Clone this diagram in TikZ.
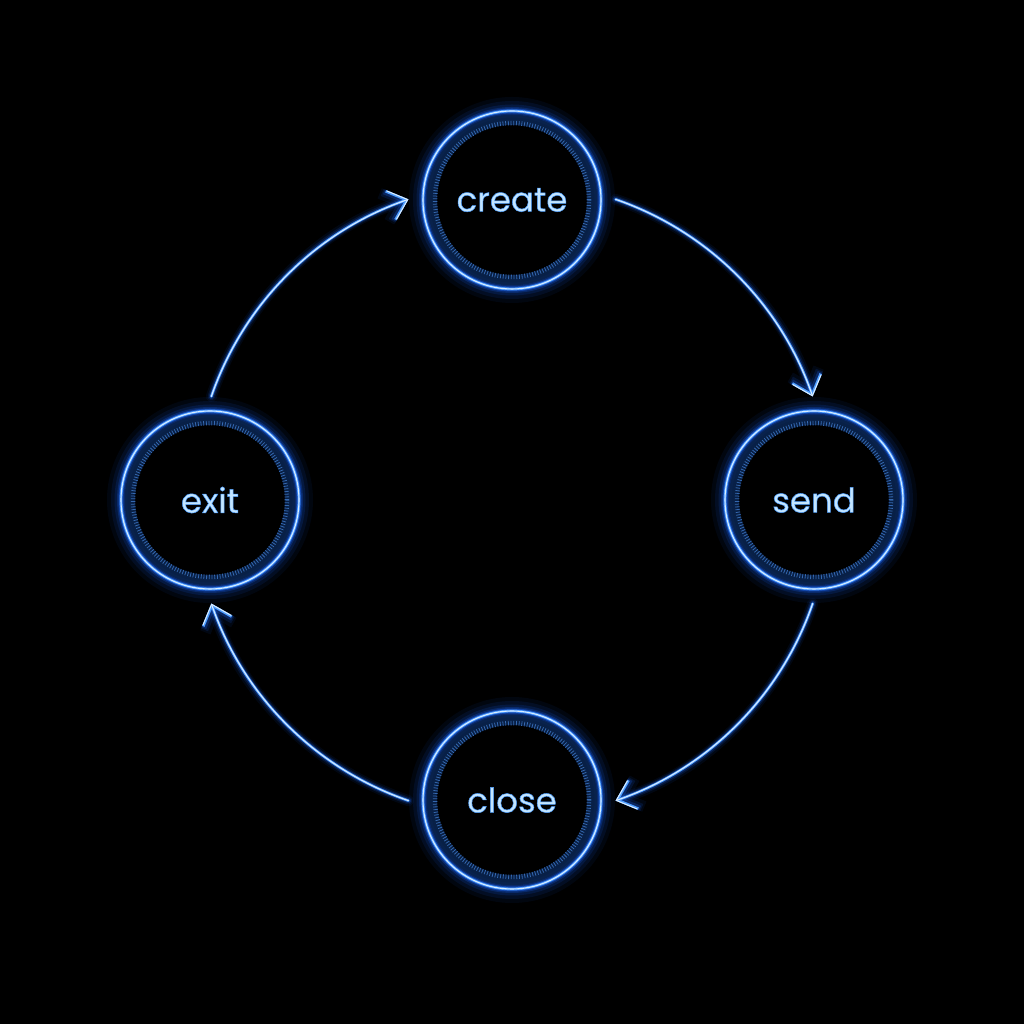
\documentclass[tikz,border=0pt]{standalone}
\usepackage{fontspec}
\newfontfamily\labelfont{Poppins}
\usetikzlibrary{arrows.meta,calc}
\definecolor{glowblue}{HTML}{1A66FF}
\definecolor{ringblue}{HTML}{4A9BFF}
\definecolor{corewhite}{HTML}{D8ECFF}
\definecolor{tickblue}{HTML}{3468B0}
\definecolor{bandblue}{HTML}{0A2550}
\definecolor{textblue}{HTML}{C4E6FF}
\newcommand\glowtext[1]{\special{pdf:literal direct 2 Tr 0.5 w 0.30 0.62 1 RG}#1\special{pdf:literal direct 0 Tr}}
\tikzset{
  statenode/.style={circle, minimum size=178pt, inner sep=0pt, text=textblue,
    font=\labelfont\fontsize{34}{40}\selectfont},
  arr/.style={-{Straight Barb[length=17pt 0,width=30pt 0]}, line cap=round, line join=round},
}
\newcommand\glowarc[2]{%
  \foreach \w/\o in {11/0.07,7.5/0.13,5/0.24}{%
    \draw[glowblue,line width=\w pt,opacity=\o,arr] ($(c)+(#1:318)$) arc[start angle=#1,end angle=#2,radius=318];}
  \draw[ringblue,line width=2.6pt,arr] ($(c)+(#1:318)$) arc[start angle=#1,end angle=#2,radius=318];
  \draw[corewhite,line width=1.1pt,arr] ($(c)+(#1:318)$) arc[start angle=#1,end angle=#2,radius=318];
}
\begin{document}
\begin{tikzpicture}[x=1pt,y=1pt]
\fill[black] (0,0) rectangle (1024,1024);
\useasboundingbox (0,0) rectangle (1024,1024);
\coordinate (c) at (512,524);
% glow and rings behind nodes
\foreach \p in {(512,824),(814,524),(512,224),(210,524)}{
  \foreach \w/\o in {28/0.06,20/0.09,13/0.13,8/0.22,5/0.42}{
    \draw[glowblue,line width=\w pt,opacity=\o] \p circle (89);}
  \draw[bandblue,line width=10pt,opacity=0.8] \p circle (80);
  \draw[tickblue,line width=4.5pt,dash pattern=on 0.8pt off 1.9pt] \p circle (77);
  \draw[ringblue,line width=2.8pt] \p circle (89);
  \draw[corewhite,line width=1.1pt] \p circle (89);
}
\node[statenode] (create) at (512,824) {\glowtext{create}};
\node[statenode] (send) at (814,524) {\glowtext{send}};
\node[statenode] (close) at (512,224) {\glowtext{close}};
\node[statenode] (exit) at (210,524) {\glowtext{exit}};
\glowarc{71}{19}
\glowarc{-19}{-71}
\glowarc{-109}{-161}
\glowarc{161}{109}
\end{tikzpicture}
\end{document}
